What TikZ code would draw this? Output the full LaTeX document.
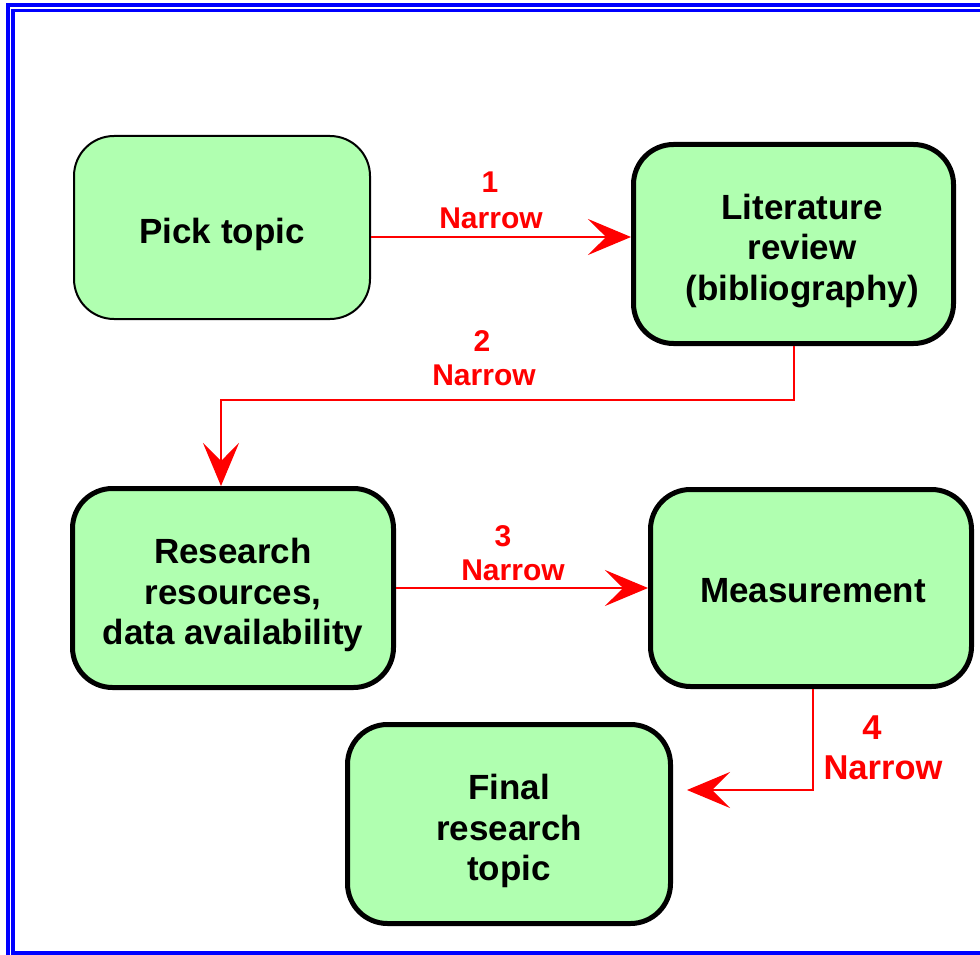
\documentclass[tikz,border=0pt]{standalone}
\usepackage{fontspec}
\setmainfont{Liberation Sans}
\usetikzlibrary{arrows.meta}
\definecolor{boxgreen}{RGB}{176,255,176}
\definecolor{frameblue}{RGB}{0,0,255}
\begin{document}
\begin{tikzpicture}[x=1pt,y=-1pt,
  box/.style={draw=black, fill=boxgreen, rounded corners=40pt, line width=5pt, inner sep=0pt},
  boxtext/.style={align=center, font=\fontsize{35}{40.5}\selectfont\bfseries, inner sep=0pt},
  lab/.style={text=red, font=\fontsize{30}{35}\selectfont\bfseries, anchor=base, inner sep=0pt},
  labbig/.style={lab, font=\fontsize{34.5}{40}\selectfont\bfseries},
  conn/.style={draw=red, line width=1.3pt, -{Stealth[length=43pt,width=36pt,inset=18pt]}}
]
\clip (0,0) rectangle (980,955);
\useasboundingbox (0,0) rectangle (980,955);
\fill[white] (0,0) rectangle (980,955);
% frame
\draw[frameblue, line width=4pt] (8,5) rectangle (1000,980);
\draw[frameblue, line width=3.5pt] (13,10.5) rectangle (995,953);
% boxes
\node[box, line width=2pt, minimum width=296pt, minimum height=183pt] (pick) at (222,227.5) {};
\node[box, minimum width=320pt, minimum height=199pt] (lit) at (793.5,244) {};
\node[box, minimum width=321pt, minimum height=199pt] (res) at (233,588) {};
\node[box, minimum width=321pt, minimum height=197pt] (meas) at (811,588) {};
\node[box, minimum width=323pt, minimum height=199pt] (final) at (509,824) {};
% box texts
\node[boxtext] (pickt) at (222,234) {Pick topic};
\node[boxtext] (litt) at (802,251) {Literature\\review\\(bibliography)};
\node[boxtext] (rest) at (233,595) {Research\\resources,\\data availability};
\node[boxtext] (meast) at (813,591) {Measurement};
\node[boxtext] (finalt) at (509,831) {Final\\research\\topic};
% connectors
\coordinate (y1) at (0,237);
\draw[conn] (pick.east |- y1) -- (lit.west |- y1);
\coordinate (c2a) at (794,400);
\coordinate (c2b) at (221,400);
\draw[conn] (lit.south -| c2a) -- (c2a) -- (c2b) -- (res.north -| c2b);
\draw[conn] (res.east) -- (meas.west);
\coordinate (c4a) at (813,790);
\coordinate (c4b) at (687,790);
\draw[conn] (meas.south -| c4a) -- (c4a) -- (c4b);
% labels
\node[lab] (n1) at (490,193) {1};
\node[lab] (w1) at (491,228) {Narrow};
\node[lab] (n2) at (482,351) {2};
\node[lab] (w2) at (484,385) {Narrow};
\node[lab] (n3) at (503,546) {3};
\node[lab] (w3) at (513,580) {Narrow};
\node[labbig] (n4) at (872,739) {4};
\node[labbig] (w4) at (883,779) {Narrow};
\end{tikzpicture}
\end{document}
